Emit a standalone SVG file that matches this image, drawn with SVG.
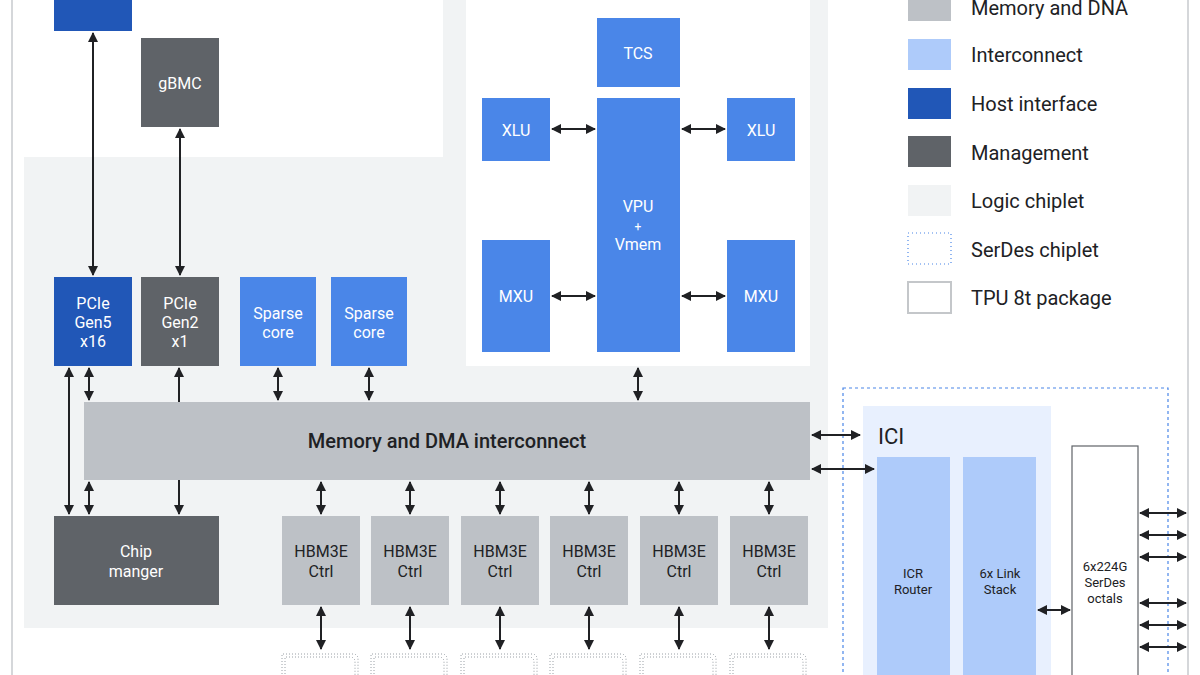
<svg xmlns="http://www.w3.org/2000/svg" width="1200" height="675" viewBox="0 0 1200 675">
<defs>
<marker id="ah" viewBox="0 0 10 10" refX="9" refY="5" markerWidth="5" markerHeight="5" orient="auto-start-reverse"><path d="M0,0 L10,5 L0,10 z" fill="#202124"/></marker>
<style>
text{font-family:Roboto,"Liberation Sans",sans-serif;text-anchor:middle}
.w{fill:#fff;font-size:16px}
.d{fill:#202124;font-size:16px}
.lg{fill:#202124;font-size:20px;text-anchor:start}
.host{fill:#2157b7}
.mg{fill:#5f6368}
.bl{fill:#4a86e8}
.gr{fill:#bdc1c6}
.ic{fill:#aecbfa}
.c line{stroke:#202124;stroke-width:2;marker-end:url(#ah)}
.c line.b{marker-start:url(#ah)}
.dot{fill:none;stroke:#9aa0a6;stroke-width:1;stroke-dasharray:1 2}
</style>
</defs>
<rect width="1200" height="675" fill="#fff"/>
<line x1="12" y1="0" x2="12" y2="675" stroke="#d5d7da" stroke-width="2"/>
<line x1="1188" y1="0" x2="1188" y2="675" stroke="#d5d7da" stroke-width="2"/>
<g id="logic-chiplet">
<rect x="24" y="0" width="804" height="628" fill="#f1f3f4"/>
<rect x="13" y="0" width="430" height="157" fill="#fff"/>
<rect x="466" y="0" width="344" height="366" fill="#fff"/>
</g>
<g id="host"><rect class="host" x="54" y="0" width="78" height="31"/></g>
<g id="gbmc"><rect class="mg" x="141" y="38" width="78" height="89"/><text class="w" x="180" y="89">gBMC</text></g>
<g id="pcie5"><rect class="host" x="54" y="277" width="78" height="89"/><text class="w" x="93" y="309">PCIe</text><text class="w" x="93" y="328">Gen5</text><text class="w" x="93" y="347">x16</text></g>
<g id="pcie2"><rect class="mg" x="141" y="277" width="78" height="89"/><text class="w" x="180" y="309">PCIe</text><text class="w" x="180" y="328">Gen2</text><text class="w" x="180" y="347">x1</text></g>
<g id="sparse1"><rect class="bl" x="240" y="277" width="76" height="89"/><text class="w" x="278" y="319">Sparse</text><text class="w" x="278" y="338">core</text></g>
<g id="sparse2"><rect class="bl" x="331" y="277" width="76" height="89"/><text class="w" x="369" y="319">Sparse</text><text class="w" x="369" y="338">core</text></g>
<g id="tcs"><rect class="bl" x="597" y="18" width="83" height="69"/><text class="w" x="638" y="59">TCS</text></g>
<g id="vpu"><rect class="bl" x="597" y="98" width="83" height="254"/><text class="w" x="638" y="212">VPU</text><text class="w" x="638" y="231" style="font-size:12px">+</text><text class="w" x="638" y="250">Vmem</text></g>
<g id="xlu1"><rect class="bl" x="482" y="98" width="68" height="63"/><text class="w" x="516" y="136">XLU</text></g>
<g id="xlu2"><rect class="bl" x="727" y="98" width="68" height="63"/><text class="w" x="761" y="136">XLU</text></g>
<g id="mxu1"><rect class="bl" x="482" y="240" width="68" height="112"/><text class="w" x="516" y="302">MXU</text></g>
<g id="mxu2"><rect class="bl" x="727" y="240" width="68" height="112"/><text class="w" x="761" y="302">MXU</text></g>
<g id="mem"><rect class="gr" x="84" y="402" width="726" height="78"/><text x="447" y="448" style="fill:#202124;font-size:20px;font-weight:500">Memory and DMA interconnect</text></g>
<g id="chipmgr"><rect class="mg" x="54" y="516" width="165" height="89"/><text class="w" x="136" y="557">Chip</text><text class="w" x="136" y="577">manger</text></g>
<g id="hbm">
<rect class="gr" x="282" y="516" width="78" height="89"/><text class="d" x="321" y="557">HBM3E</text><text class="d" x="321" y="577">Ctrl</text>
<rect class="gr" x="371" y="516" width="78" height="89"/><text class="d" x="410" y="557">HBM3E</text><text class="d" x="410" y="577">Ctrl</text>
<rect class="gr" x="461" y="516" width="78" height="89"/><text class="d" x="500" y="557">HBM3E</text><text class="d" x="500" y="577">Ctrl</text>
<rect class="gr" x="550" y="516" width="78" height="89"/><text class="d" x="589" y="557">HBM3E</text><text class="d" x="589" y="577">Ctrl</text>
<rect class="gr" x="640" y="516" width="78" height="89"/><text class="d" x="679" y="557">HBM3E</text><text class="d" x="679" y="577">Ctrl</text>
<rect class="gr" x="730" y="516" width="78" height="89"/><text class="d" x="769" y="557">HBM3E</text><text class="d" x="769" y="577">Ctrl</text>
</g>
<g id="hbm-stacks">
<path class="dot" d="M282,680 V654 H355 L358,657 V680"/><path class="dot" d="M285,680 V657 H352 L355,660 V680"/>
<path class="dot" d="M371,680 V654 H444 L447,657 V680"/><path class="dot" d="M374,680 V657 H441 L444,660 V680"/>
<path class="dot" d="M461,680 V654 H534 L537,657 V680"/><path class="dot" d="M464,680 V657 H531 L534,660 V680"/>
<path class="dot" d="M550,680 V654 H623 L626,657 V680"/><path class="dot" d="M553,680 V657 H620 L623,660 V680"/>
<path class="dot" d="M640,680 V654 H713 L716,657 V680"/><path class="dot" d="M643,680 V657 H710 L713,660 V680"/>
<path class="dot" d="M730,680 V654 H803 L806,657 V680"/><path class="dot" d="M733,680 V657 H800 L803,660 V680"/>
</g>
<g id="serdes-chiplet"><rect x="843" y="388" width="325" height="300" fill="none" stroke="#4a86e8" stroke-width="1.2" stroke-dasharray="3 3"/></g>
<g id="ici"><rect x="863" y="406" width="188" height="280" fill="#e8f0fe"/><text x="878" y="444" style="fill:#202124;font-size:22px;text-anchor:start">ICI</text></g>
<g id="icr"><rect class="ic" x="877" y="457" width="73" height="220"/><text x="913" y="578" style="fill:#202124;font-size:13px">ICR</text><text x="913" y="594" style="fill:#202124;font-size:13px">Router</text></g>
<g id="link"><rect class="ic" x="963" y="457" width="73" height="220"/><text x="1000" y="578" style="fill:#202124;font-size:13px">6x Link</text><text x="1000" y="594" style="fill:#202124;font-size:13px">Stack</text></g>
<g id="octals"><rect x="1072" y="446" width="66" height="240" fill="#fff" stroke="#5f6368" stroke-width="1.2"/><text x="1105" y="571" style="fill:#202124;font-size:13px">6x224G</text><text x="1105" y="587" style="fill:#202124;font-size:13px">SerDes</text><text x="1105" y="603" style="fill:#202124;font-size:13px">octals</text></g>
<g class="c" id="connectors">
<line class="b" x1="93" y1="275" x2="93" y2="33"/>
<line class="b" x1="180" y1="275" x2="180" y2="129"/>
<line class="b" x1="69" y1="368" x2="69" y2="514"/>
<line class="b" x1="89" y1="368" x2="89" y2="400"/>
<line class="b" x1="89" y1="482" x2="89" y2="514"/>
<line x1="179" y1="402" x2="179" y2="368"/>
<line x1="179" y1="480" x2="179" y2="514"/>
<line class="b" x1="278" y1="368" x2="278" y2="400"/>
<line class="b" x1="369" y1="368" x2="369" y2="400"/>
<line class="b" x1="638" y1="368" x2="638" y2="400"/>
<line class="b" x1="552" y1="129" x2="595" y2="129"/>
<line class="b" x1="682" y1="129" x2="725" y2="129"/>
<line class="b" x1="552" y1="296" x2="595" y2="296"/>
<line class="b" x1="682" y1="296" x2="725" y2="296"/>
<line class="b" x1="321" y1="482" x2="321" y2="514"/><line class="b" x1="321" y1="607" x2="321" y2="649"/>
<line class="b" x1="410" y1="482" x2="410" y2="514"/><line class="b" x1="410" y1="607" x2="410" y2="649"/>
<line class="b" x1="500" y1="482" x2="500" y2="514"/><line class="b" x1="500" y1="607" x2="500" y2="649"/>
<line class="b" x1="589" y1="482" x2="589" y2="514"/><line class="b" x1="589" y1="607" x2="589" y2="649"/>
<line class="b" x1="679" y1="482" x2="679" y2="514"/><line class="b" x1="679" y1="607" x2="679" y2="649"/>
<line class="b" x1="769" y1="482" x2="769" y2="514"/><line class="b" x1="769" y1="607" x2="769" y2="649"/>
<line class="b" x1="812" y1="435" x2="860" y2="435"/>
<line class="b" x1="812" y1="469" x2="874" y2="469"/>
<line class="b" x1="1038" y1="610" x2="1070" y2="610"/>
<line class="b" x1="1140" y1="513" x2="1186" y2="513"/>
<line class="b" x1="1140" y1="535" x2="1186" y2="535"/>
<line class="b" x1="1140" y1="557" x2="1186" y2="557"/>
<line class="b" x1="1140" y1="603" x2="1186" y2="603"/>
<line class="b" x1="1140" y1="625" x2="1186" y2="625"/>
<line class="b" x1="1140" y1="647" x2="1186" y2="647"/>
</g>
<g id="legend">
<rect class="gr" x="908" y="-10" width="43" height="31"/><text class="lg" x="971" y="15">Memory and DNA</text>
<rect class="ic" x="908" y="39" width="43" height="31"/><text class="lg" x="971" y="62">Interconnect</text>
<rect class="host" x="908" y="88" width="43" height="31"/><text class="lg" x="971" y="111">Host interface</text>
<rect class="mg" x="908" y="136" width="43" height="31"/><text class="lg" x="971" y="160">Management</text>
<rect fill="#f1f3f4" x="908" y="185" width="43" height="31"/><text class="lg" x="971" y="208">Logic chiplet</text>
<rect x="908" y="233" width="43" height="31" fill="none" stroke="#4a86e8" stroke-width="1.2" stroke-dasharray="1 3"/><text class="lg" x="971" y="257">SerDes chiplet</text>
<rect x="908" y="282" width="43" height="31" fill="#fff" stroke="#c4c7ca" stroke-width="2"/><text class="lg" x="971" y="305">TPU 8t package</text>
</g>
</svg>
